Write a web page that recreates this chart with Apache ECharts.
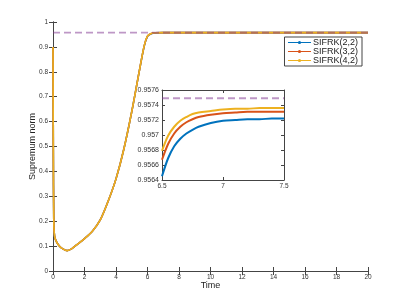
<!DOCTYPE html>
<html><head><meta charset="utf-8">
<script src="https://cdn.jsdelivr.net/npm/echarts@6/dist/echarts.min.js"></script>
<style>html,body{margin:0;padding:0;background:#fff}#c{width:407px;height:305px}</style>
</head><body><div id="c"></div>
<script>
// Main view
const mainTime = [0,0.02,0.05,0.1,0.2,0.4,0.6,0.9,1.2,1.6,2,2.5,3,3.5,4,4.5,5,5.5,5.8,6,6.2,6.5,7,7.5,10,15,20];
const mainBlue   = [0.90,0.50,0.20,0.140,0.120,0.100,0.090,0.082,0.090,0.110,0.130,0.160,0.205,0.280,0.370,0.490,0.640,0.810,0.905,0.942,0.952,0.95645,0.95719,0.95722,0.95722,0.95722,0.95722];
const mainOrange = [0.90,0.50,0.20,0.140,0.120,0.100,0.090,0.082,0.090,0.110,0.130,0.160,0.205,0.280,0.370,0.490,0.640,0.810,0.906,0.943,0.953,0.95667,0.95729,0.95731,0.95731,0.95731,0.95731];
const mainYellow = [0.90,0.50,0.20,0.140,0.120,0.100,0.090,0.082,0.090,0.110,0.130,0.160,0.205,0.280,0.370,0.490,0.640,0.810,0.907,0.944,0.953,0.95679,0.95734,0.95736,0.95736,0.95736,0.95736];
const refLevel = 0.95749;
// Inset (zoom) view
const zoomTime   = [6.5,6.55,6.6,6.65,6.7,6.75,6.8,6.9,7,7.1,7.2,7.3,7.4,7.5];
const zoomBlue   = [0.95645,0.95669,0.95685,0.95695,0.95702,0.95707,0.95711,0.95716,0.95719,0.95720,0.95721,0.95721,0.95722,0.95722];
const zoomOrange = [0.95667,0.95688,0.95702,0.95711,0.95717,0.95721,0.95724,0.95727,0.95729,0.95730,0.95731,0.95731,0.95731,0.95731];
const zoomYellow = [0.95679,0.95699,0.95711,0.95719,0.95724,0.95728,0.95730,0.95732,0.95734,0.95735,0.95735,0.95736,0.95736,0.95736];
const names = ['SIFRK(2,2)','SIFRK(3,2)','SIFRK(4,2)'];
const colors = ['#0072BD','#D95319','#EDB120'];
const purple = 'rgba(126,47,142,0.5)';

const pair = (xs, ys) => xs.map((x, i) => [x, ys[i]]);
const font = 'Liberation Sans';
const axLine = {show:true, lineStyle:{color:'#444', width:1}};
const tick = (len) => ({show:true, inside:true, length:len, lineStyle:{color:'#444'}});

function mkSeries(data, i, xi, yi, w) {
  return {type:'line', name:names[i], xAxisIndex:xi, yAxisIndex:yi, data:data,
    symbol:'circle', symbolSize:3, showSymbol:false, smooth:0.3,
    lineStyle:{color:colors[i], width:w}, itemStyle:{color:colors[i]}, z: 3+i, animation:false};
}
const fmt4 = v => String(parseFloat(v.toFixed(4)));

const chart = echarts.init(document.getElementById('c'), null, {renderer:'canvas'});
chart.setOption({
  animation:false,
  textStyle:{fontFamily:font},
  grid:[
    {left:53, right:39, top:22, bottom:34, show:false},
    {left:162, top:90, width:122, height:90, show:true, backgroundColor:'#fff', borderWidth:0, z:5}
  ],
  legend:{
    data:names, right:45, top:37, orient:'vertical', itemGap:0, itemWidth:23, itemHeight:4,
    backgroundColor:'#fff', borderColor:'#444', borderWidth:1, padding:[1,4,1,3],
    lineStyle:{width:1}, itemStyle:{borderWidth:0},
    textStyle:{fontSize:9, color:'#222', fontFamily:font, lineHeight:8.5, padding:[0,0,0,-3]}, z:10
  },
  xAxis:[
    {type:'value', gridIndex:0, min:0, max:20, interval:2, axisLine:axLine, axisTick:tick(4), splitLine:{show:false},
     axisLabel:{fontSize:6.5, color:'#333', margin:3}, name:'Time', nameLocation:'middle', nameGap:10, nameMoveOverlap:false,
     nameTextStyle:{fontSize:9, color:'#222'}},
    {type:'value', gridIndex:0, position:'top', min:0, max:20, interval:2, axisLine:axLine, axisTick:tick(4),
     axisLabel:{show:false}, splitLine:{show:false}},
    {type:'value', gridIndex:1, min:6.5, max:7.5, interval:0.5, axisLine:axLine, axisTick:tick(3), splitLine:{show:false},
     axisLabel:{fontSize:6.5, color:'#333', margin:3, formatter: v => String(v)}, z:6},
    {type:'value', gridIndex:1, position:'top', min:6.5, max:7.5, interval:0.5, axisLine:axLine, axisTick:tick(3),
     axisLabel:{show:false}, splitLine:{show:false}, z:6}
  ],
  yAxis:[
    {type:'value', gridIndex:0, min:0, max:1, interval:0.1, axisLine:axLine, axisTick:tick(4), splitLine:{show:false},
     axisLabel:{fontSize:6.5, color:'#333', margin:5, formatter: v => String(parseFloat(v.toFixed(1)))},
     name:'Supremum norm', nameLocation:'middle', nameGap:15.5, nameMoveOverlap:false, nameTextStyle:{fontSize:9, color:'#222'}},
    {type:'value', gridIndex:0, position:'right', min:0, max:1, interval:0.1, axisLine:axLine, axisTick:tick(4),
     axisLabel:{show:false}, splitLine:{show:false}},
    {type:'value', gridIndex:1, min:0.9564, max:0.9576, interval:0.0002, axisLine:axLine, axisTick:tick(3), splitLine:{show:false},
     axisLabel:{fontSize:7, color:'#333', margin:3, formatter: fmt4}, z:6},
    {type:'value', gridIndex:1, position:'right', min:0.9564, max:0.9576, interval:0.0002, axisLine:axLine, axisTick:tick(3),
     axisLabel:{show:false}, splitLine:{show:false}, z:6}
  ],
  series:[
    mkSeries(pair(mainTime, mainBlue), 0, 0, 0, 1.6),
    mkSeries(pair(mainTime, mainOrange), 1, 0, 0, 1.6),
    mkSeries(pair(mainTime, mainYellow), 2, 0, 0, 1.6),
    {type:'line', name:'ref', xAxisIndex:0, yAxisIndex:0, data:[[0,refLevel],[20,refLevel]], showSymbol:false, symbol:'none',
     lineStyle:{color:purple, width:1.8, type:[7,4]}, z:8},
    Object.assign(mkSeries(pair(zoomTime, zoomBlue), 0, 2, 2, 2), {z:10}),
    Object.assign(mkSeries(pair(zoomTime, zoomOrange), 1, 2, 2, 2), {z:11}),
    Object.assign(mkSeries(pair(zoomTime, zoomYellow), 2, 2, 2, 2), {z:12}),
    {type:'line', name:'ref2', xAxisIndex:2, yAxisIndex:2, data:[[6.5,refLevel],[7.5,refLevel]], showSymbol:false, symbol:'none',
     lineStyle:{color:purple, width:1.8, type:[7,4]}, z:13}
  ]
});
</script></body></html>
